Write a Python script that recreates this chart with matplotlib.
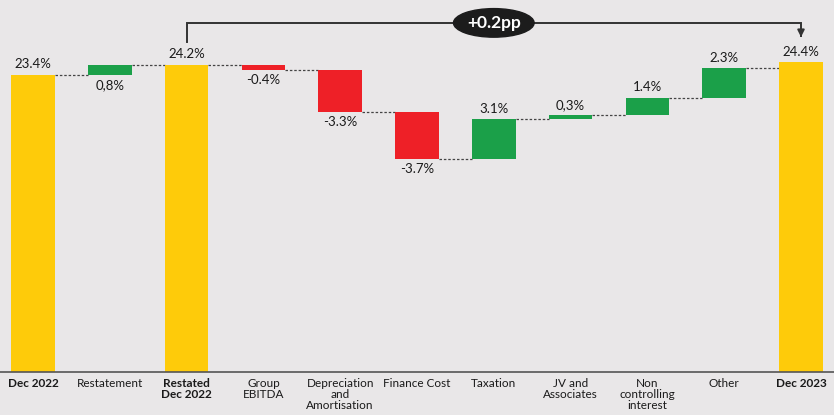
import numpy as np
import matplotlib.pyplot as plt
from matplotlib.patches import Ellipse

categories = ["Dec 2022", "Restatement", "Restated\nDec 2022", "Group\nEBITDA",
              "Depreciation\nand\nAmortisation", "Finance Cost", "Taxation",
              "JV and\nAssociates", "Non\ncontrolling\ninterest", "Other", "Dec 2023"]
values = [23.4, 0.8, 24.2, -0.4, -3.3, -3.7, 3.1, 0.3, 1.4, 2.3, 24.4]
is_total = [True, False, True, False, False, False, False, False, False, False, True]
labels = ["23.4%", "0,8%", "24.2%", "-0.4%", "-3.3%", "-3.7%", "3.1%",
          "0,3%", "1.4%", "2.3%", "24.4%"]
change_label = "+0.2pp"

bg = "#E9E7E8"
yellow = "#FECB0A"
green = "#1BA049"
red = "#EE2027"

plt.rcParams['font.family'] = ['Lato', 'DejaVu Sans']

fig = plt.figure(figsize=(8.34, 4.15), dpi=100)
fig.patch.set_facecolor(bg)
ax = fig.add_axes([0, 43 / 415, 1, 372 / 415])
ax.set_facecolor(bg)

x = np.arange(len(values))
w = 0.57
bottoms, tops = [], []
level = 0.0
for v, tot in zip(values, is_total):
    if tot:
        b, t = 0.0, v
        level = v
    else:
        b, t = level, level + v
        level = t
    bottoms.append(min(b, t))
    tops.append(max(b, t))

for i, (v, tot) in enumerate(zip(values, is_total)):
    color = yellow if tot else (green if v > 0 else red)
    ax.bar(x[i], tops[i] - bottoms[i], bottom=bottoms[i], width=w, color=color, zorder=2)
    # value labels: above for rises and totals, below for falls
    if tot or (v > 0 and i != 1):
        ax.text(x[i], tops[i] + 0.35, labels[i], ha='center', va='bottom', fontsize=9.5, color='#1a1a1a')
    else:
        ax.text(x[i], bottoms[i] - 0.35, labels[i], ha='center', va='top', fontsize=9.5, color='#1a1a1a')

# dashed connectors between bars
level = 0.0
for i, (v, tot) in enumerate(zip(values, is_total)):
    level = v if tot else level + v
    if i < len(values) - 1:
        ax.plot([x[i] + w / 2, x[i + 1] - w / 2], [level, level], ls=(0, (2, 1.5)),
                color='#444444', lw=0.9, zorder=1)

# bracket showing the overall change
yb = 29.3 - 23 / 12.7
ax.plot([x[2], x[2], x[10], x[10]], [tops[2] + 1.8, yb, yb, tops[10] + 2.1],
        color='#333333', lw=1.4, zorder=3, solid_joinstyle='miter')
ax.annotate('', xy=(x[10], tops[10] + 1.75), xytext=(x[10], tops[10] + 2.3),
            arrowprops=dict(arrowstyle='-|>', color='#333333', lw=1.4, mutation_scale=10))
ax.add_patch(Ellipse((x[6], yb), 1.05, 2.25, color='#1c1c1c', zorder=4))
ax.text(x[6], yb, change_label, ha='center', va='center', fontsize=12.5, color='white',
        fontweight='bold', zorder=5)

ax.set_xlim(-33 / 76.8, (834 - 33) / 76.8)
ax.set_ylim(0, 372 / 12.7)
ax.set_xticks(x)
ax.set_xticklabels(categories, fontsize=8.5, color='#1a1a1a', linespacing=1.05)
for lab, tot in zip(ax.get_xticklabels(), is_total):
    if tot:
        lab.set_fontweight('bold')
ax.tick_params(axis='x', length=0, pad=4)
ax.set_yticks([])
for s in ['top', 'right', 'left']:
    ax.spines[s].set_visible(False)
ax.spines['bottom'].set_color('#555555')
ax.spines['bottom'].set_linewidth(1.2)

fig.savefig('out.png', dpi=100, facecolor=bg)
